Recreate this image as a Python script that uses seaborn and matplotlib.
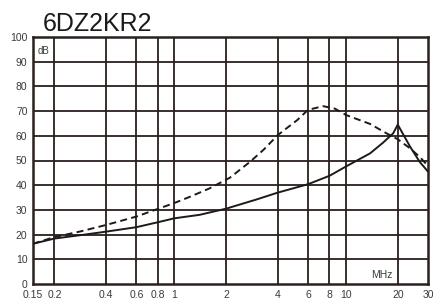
import matplotlib
matplotlib.use("Agg")
import matplotlib.pyplot as plt
import matplotlib.ticker as mticker
import pandas as pd
import seaborn as sns

# values
solid_freq = [0.15, 0.2, 0.3, 0.4, 0.6, 0.8, 1, 1.4, 2, 3, 4, 6, 8, 10,
              13.8, 16.4, 18.8, 20, 23.6, 26.8, 30]
solid_db = [16.3, 18.4, 20.0, 21.2, 23.0, 25.0, 26.6, 28.0, 30.5, 34.2, 37.0, 40.4, 43.8, 47.6,
            52.9, 57.2, 61.0, 64.5, 55.6, 49.5, 45.5]

dashed_freq = [0.15, 0.2, 0.28, 0.4, 0.6, 0.8, 1, 1.23, 1.6, 2.1, 2.76, 3.3, 4, 5.2,
               6, 7.35, 8.6, 10, 13.8, 17.2, 20, 23.6, 26.8, 30]
dashed_db = [16.3, 19.0, 21.2, 23.9, 27.3, 30.4, 32.8, 35.3, 38.7, 43.0, 49.5, 54.3, 60.3, 66.4,
             70.5, 72.0, 71.0, 68.4, 64.8, 61.0, 58.6, 54.9, 51.5, 47.8]

x_ticks = [0.15, 0.2, 0.4, 0.6, 0.8, 1, 2, 4, 6, 8, 10, 20, 30]
x_labels = ["0.15", "0.2", "0.4", "0.6", "0.8", "1", "2", "4", "6", "8", "10", "20", "30"]
y_ticks = [0, 10, 20, 30, 40, 50, 60, 70, 80, 90, 100]

title = "6DZ2KR2"

sns.set_style("white")
plt.rcParams['font.family'] = ['Liberation Sans Narrow', 'Liberation Sans', 'DejaVu Sans']

solid = pd.DataFrame({"freq": solid_freq, "db": solid_db})
dashed = pd.DataFrame({"freq": dashed_freq, "db": dashed_db})

fig = plt.figure(figsize=(4.34, 3.02), dpi=100)
ax = fig.add_axes([33 / 434, 1 - 284 / 302, 395 / 434, 247 / 302])

grid_col = "#2a201e"
ax.set_xscale("log")
ax.set_xlim(0.15, 30)
ax.set_ylim(0, 100)

for x in x_ticks[1:-1]:
    ax.axvline(x, color=grid_col, lw=1.3, zorder=1)
for y in y_ticks[1:-1]:
    ax.axhline(y, color=grid_col, lw=1.3, zorder=1)

sns.lineplot(data=solid, x="freq", y="db", ax=ax, color="#1e1a1a", lw=1.4, zorder=3)
sns.lineplot(data=dashed, x="freq", y="db", ax=ax, color="#1e1a1a", lw=1.4,
             zorder=3).lines[-1].set_dashes([3.6, 2.2])

ax.xaxis.set_major_locator(mticker.FixedLocator(x_ticks))
ax.xaxis.set_minor_locator(mticker.NullLocator())
ax.set_xticklabels(x_labels)
ax.set_yticks(y_ticks)
ax.tick_params(length=0, labelsize=7.5, colors="#3a3a3a", pad=4)
ax.set_xlabel("")
ax.set_ylabel("")

for s in ax.spines.values():
    s.set_color(grid_col)
    s.set_linewidth(1.8)

ax.text(0.012, 0.943, "dB", transform=ax.transAxes, fontsize=7, color="#3a3a3a",
        ha="left", va="center")
ax.text(0.884, 0.036, "MHz", transform=ax.transAxes, fontsize=7.5, color="#3a3a3a",
        ha="center", va="center")

fig.text(43 / 434, 1 - 31 / 302, title, fontsize=18, color="#1a1a1a",
         ha="left", va="baseline", family=['Liberation Sans', 'DejaVu Sans'])

fig.savefig("out.png", dpi=100)
